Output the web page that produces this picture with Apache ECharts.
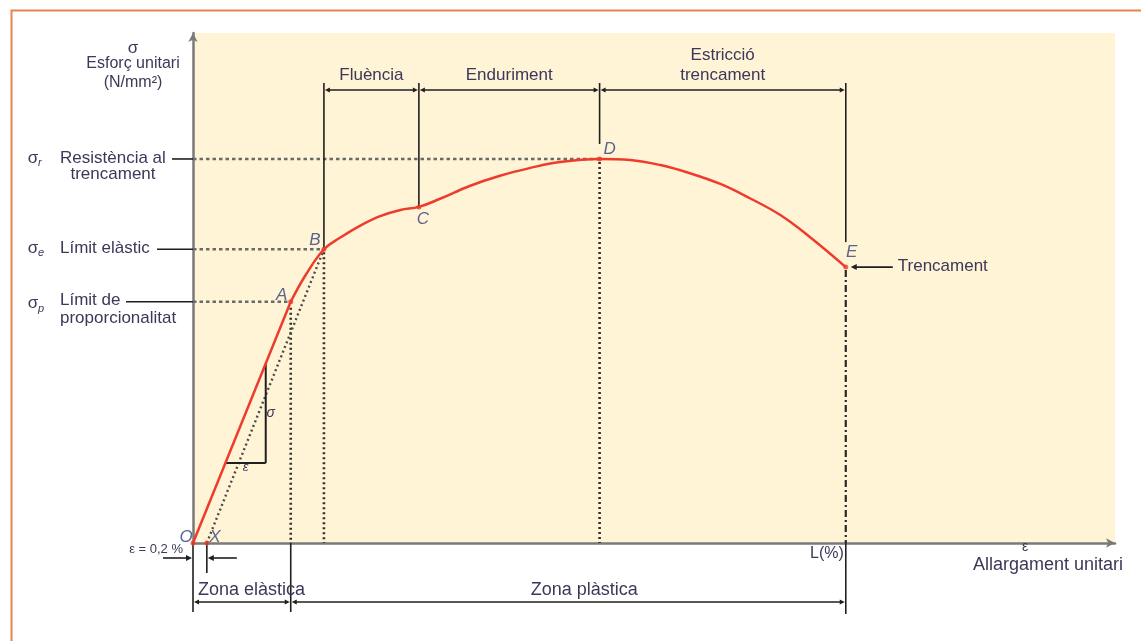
<!DOCTYPE html>
<html>
<head>
<meta charset="utf-8">
<title>Diagrama esforç–allargament</title>
<script src="https://cdn.jsdelivr.net/npm/echarts@6/dist/echarts.min.js"></script>
<style>
  html, body { margin: 0; padding: 0; background: #ffffff; }
  #chart { width: 1141px; height: 641px; }
</style>
</head>
<body>
<div id="chart"></div>
<script>
// Stress–strain curve of a ductile material (strain units, stress units)
const curveStrain = [0, 10.6, 12.2, 14.2, 15.9, 18.1, 20.3, 22.5, 24.5, 26.8, 30.0, 33.3, 36.5, 39.8, 44.1, 47.4, 50.7, 53.9, 57.2, 60.4, 63.7, 66.9, 70.8];
const curveStress = [0, 47.3, 52.5, 57.6, 59.8, 62.2, 64.1, 65.3, 65.9, 67.5, 70.0, 72.0, 73.5, 74.7, 75.3, 75.1, 74.1, 72.5, 70.4, 67.6, 64.3, 60.0, 54.1];

// Characteristic points of the curve
const pointNames  = ['O', 'X', 'A', 'B', 'C', 'D', 'E'];
const pointStrain = [0, 1.5, 10.6, 14.2, 24.5, 44.1, 70.8];
const pointStress = [0, 0, 47.3, 57.6, 65.9, 75.3, 54.1];

// Stages above the curve and zones below the strain axis
const stageNames  = ['Fluència', 'Enduriment', 'Estricció\ntrencament'];
const stageBounds = [['B', 'C'], ['C', 'D'], ['D', 'E']];
const zoneNames   = ['Zona elàstica', 'Zona plàstica'];
const zoneBounds  = [['O', 'A'], ['A', 'E']];

// Stress levels marked on the vertical axis
const levelPoints = ['D', 'B', 'A'];
const levelSubs   = ['r', 'e', 'p'];
const levelTexts  = [['Resistència al', 'trencament'], ['Límit elàstic'], ['Límit de', 'proporcionalitat']];

// Slope triangle on the elastic line (stress values at its two corners)
const slopeTriangle = [15.7, 35.2];

const offsetText = 'ε = 0,2 %';
const breakText = 'Trencament';

const FONT = '"Liberation Sans", Arial, Helvetica, sans-serif';
const TEXT = '#3b3858';
const INK = '#1f1f1f';
const RED = '#ef3b2c';

const idxOf = n => pointNames.indexOf(n);
const curvePairs = curveStrain.map((x, i) => [x, curveStress[i]]);
const iA = curveStrain.indexOf(pointStrain[idxOf('A')]);

// Letter offsets next to each marked point (px)
const letterOffset = { O: [-7, -6], X: [8, -6], A: [-9, -7], B: [-9, -9], C: [4, 12], D: [10, -10], E: [6, -15] };

function renderNotes(params, api) {
  const c = (x, y) => api.coord([x, y]);
  const P = {};
  pointNames.forEach((n, i) => { P[n] = c(pointStrain[i], pointStress[i]); });
  const [x0, y0] = c(0, 0);
  const xEnd = c(100, 0)[0];
  const yTop = c(0, 100)[1];
  const g = [];

  const seg = (x1, y1, x2, y2, st) => g.push({
    type: 'line', shape: { x1, y1, x2, y2 },
    style: Object.assign({ stroke: INK, lineWidth: 1.6, fill: null }, st || {})
  });
  const head = (x, y, dir, s) => {
    s = s || 6;
    const w = s * 0.5;
    const pts = dir === 'r'
      ? [[x, y], [x - s, y - w], [x - s, y + w]]
      : [[x, y], [x + s, y - w], [x + s, y + w]];
    g.push({ type: 'polygon', shape: { points: pts }, style: { fill: INK } });
  };
  const label = (x, y, text, st) => g.push({
    type: 'text',
    style: Object.assign({ x, y, text, fill: TEXT, font: `17px ${FONT}`, align: 'center', verticalAlign: 'middle' }, st || {})
  });

  const dotted = { stroke: '#2e2e2e', lineWidth: 2.6, lineDash: [2, 3] };
  const dashed = { stroke: '#6a6a6a', lineWidth: 2.4, lineDash: [3.5, 3] };

  // Horizontal guides from the stress axis to each level point
  levelPoints.forEach(n => seg(x0, P[n][1], P[n][0], P[n][1], dashed));

  // Vertical guides down to the strain axis
  seg(P.A[0], P.A[1] + 6, P.A[0], y0, dotted);
  seg(P.B[0], P.B[1] + 3, P.B[0], y0, dotted);
  seg(P.D[0], P.D[1] + 3, P.D[0], y0, dotted);
  seg(P.E[0], P.E[1] + 3, P.E[0], y0, { stroke: '#2a2a2a', lineWidth: 2.2, lineDash: [7, 3, 2, 3] });

  // Offset elastic line from X to B
  seg(P.X[0], P.X[1], P.B[0], P.B[1], { stroke: '#4a4a4a', lineWidth: 2.4, lineDash: [2, 3] });

  // Stage brackets above the curve
  const bracketY = yTop + 57;
  const bracketTop = yTop + 50;
  seg(P.B[0], bracketTop, P.B[0], P.B[1]);
  seg(P.C[0], bracketTop, P.C[0], P.C[1]);
  seg(P.D[0], bracketTop, P.D[0], P.D[1] - 15);
  seg(P.E[0], bracketTop, P.E[0], P.E[1] - 25);
  stageBounds.forEach((b, i) => {
    const xa = P[b[0]][0] + 1, xb = P[b[1]][0] - 1;
    seg(xa + 4, bracketY, xb - 4, bracketY);
    head(xa, bracketY, 'l', 5);
    head(xb, bracketY, 'r', 5);
    label((xa + xb) / 2, bracketY - 5, stageNames[i], { verticalAlign: 'bottom', lineHeight: 20 });
  });

  // Zone brackets below the strain axis
  const zoneY = y0 + 59;
  seg(x0, y0, x0, y0 + 69);
  seg(P.A[0], y0, P.A[0], y0 + 69);
  seg(P.E[0], y0, P.E[0], y0 + 71);
  zoneBounds.forEach((b, i) => {
    const xa = P[b[0]][0] + 1, xb = P[b[1]][0] - 1;
    seg(xa + 4, zoneY, xb - 4, zoneY);
    head(xa, zoneY, 'l', 5);
    head(xb, zoneY, 'r', 5);
  });
  label(x0 + 5, y0 + 47, zoneNames[0], { align: 'left', font: `18px ${FONT}` });
  label((P.A[0] + P.E[0]) / 2 + 16, y0 + 47, zoneNames[1], { font: `18px ${FONT}` });

  // 0,2 % offset marker
  label(x0 - 10, y0 + 6, offsetText, { align: 'right', font: `13px ${FONT}` });
  seg(P.X[0], y0, P.X[0], y0 + 30);
  seg(x0 - 30, y0 + 15, x0 - 6, y0 + 15);
  head(x0 - 1, y0 + 15, 'r', 6);
  seg(P.X[0] + 30, y0 + 15, P.X[0] + 6, y0 + 15);
  head(P.X[0] + 1, y0 + 15, 'l', 6);

  // Strain axis captions
  label(P.E[0] - 2, y0 + 11, 'L(%)', { align: 'right', font: `16px ${FONT}` });
  label(xEnd - 90, y0 + 4, 'ε', { font: `14px ${FONT}` });
  label(xEnd + 8, y0 + 22, 'Allargament unitari', { align: 'right', font: `18px ${FONT}` });

  // Stress axis captions
  label(x0 - 60, yTop + 15, 'σ', { font: `17px ${FONT}` });
  label(x0 - 60, yTop + 31, 'Esforç unitari', { font: `16px ${FONT}` });
  label(x0 - 60, yTop + 50, '(N/mm²)', { font: `16px ${FONT}` });

  // Stress level labels with leader lines
  const leader = { D: 21, B: 36, A: 67 };
  levelPoints.forEach((n, i) => {
    const y = P[n][1];
    seg(x0 - leader[n], y, x0, y);
    const shift = n === 'A' ? 3 : 0;
    label(x0 - 160, y - 1 + shift, 'σ', { font: `17px ${FONT}` });
    label(x0 - 155, y + 4 + shift, levelSubs[i], { align: 'left', font: `italic 11px ${FONT}` });
    const lines = levelTexts[i];
    label(x0 - 133, y - 1, lines[0], { align: 'left' });
    if (lines[1]) {
      if (n === 'D') label(x0 - 80, y + 15, lines[1]);
      else label(x0 - 133, y + 17, lines[1], { align: 'left' });
    }
  });

  // Fracture arrow
  seg(P.E[0] + 47, P.E[1], P.E[0] + 10, P.E[1]);
  head(P.E[0] + 5, P.E[1], 'l', 6);
  label(P.E[0] + 52, P.E[1] - 1, breakText, { align: 'left' });

  // Slope triangle on the elastic line
  const k = pointStrain[idxOf('A')] / pointStress[idxOf('A')];
  const lo = c(slopeTriangle[0] * k, slopeTriangle[0]);
  const hi = c(slopeTriangle[1] * k, slopeTriangle[1]);
  seg(lo[0], lo[1], hi[0], lo[1], { lineWidth: 2 });
  seg(hi[0], lo[1], hi[0], hi[1], { lineWidth: 2 });
  label(hi[0] + 5, (lo[1] + hi[1]) / 2, 'σ', { font: `italic 14px ${FONT}` });
  label((lo[0] + hi[0]) / 2, lo[1] + 4, 'ε', { font: `italic 13px ${FONT}` });

  return { type: 'group', children: g };
}

const chart = echarts.init(document.getElementById('chart'));
chart.setOption({
  animation: false,
  backgroundColor: '#ffffff',
  graphic: [{
    type: 'rect', left: 9, top: 8, silent: true, z: -10,
    shape: { x: 0, y: 0, width: 1300, height: 800 },
    style: { fill: null, stroke: '#e5834e', lineWidth: 2 }
  }],
  grid: { left: 193, right: 26, top: 33, bottom: 98, show: true, backgroundColor: '#fff4d6', borderWidth: 0 },
  xAxis: {
    type: 'value', min: 0, max: 100,
    axisLine: { show: true, onZero: false, symbol: ['none', 'arrow'], symbolSize: [7, 9], lineStyle: { color: '#7a7a7a', width: 2.5 } },
    axisTick: { show: false }, axisLabel: { show: false }, splitLine: { show: false }
  },
  yAxis: {
    type: 'value', min: 0, max: 100,
    axisLine: { show: true, onZero: false, symbol: ['none', 'arrow'], symbolSize: [7, 9], lineStyle: { color: '#7a7a7a', width: 2.5 } },
    axisTick: { show: false }, axisLabel: { show: false }, splitLine: { show: false }
  },
  series: [
    {
      type: 'custom', name: 'annotations', renderItem: renderNotes, data: [[0, 0]], silent: true, z: 3
    },
    {
      type: 'line', name: 'elastic', data: curvePairs.slice(0, iA + 1), smooth: false, symbol: 'none',
      lineStyle: { color: RED, width: 2.5 }, z: 5, silent: true
    },
    {
      type: 'line', name: 'plastic', data: curvePairs.slice(iA), smooth: 0.4, symbol: 'none',
      lineStyle: { color: RED, width: 2.5 }, z: 5, silent: true
    },
    {
      type: 'scatter', name: 'points', clip: false, symbolSize: 5, z: 6, silent: true,
      itemStyle: { color: RED },
      data: pointNames.map((n, i) => ({
        name: n, value: [pointStrain[i], pointStress[i]],
        label: { offset: letterOffset[n] }
      })),
      label: {
        show: true, position: 'inside', formatter: '{b}', color: '#33407a',
        fontFamily: FONT, fontSize: 17, fontStyle: 'italic', align: 'center', verticalAlign: 'middle'
      }
    }
  ]
});
</script>
</body>
</html>
